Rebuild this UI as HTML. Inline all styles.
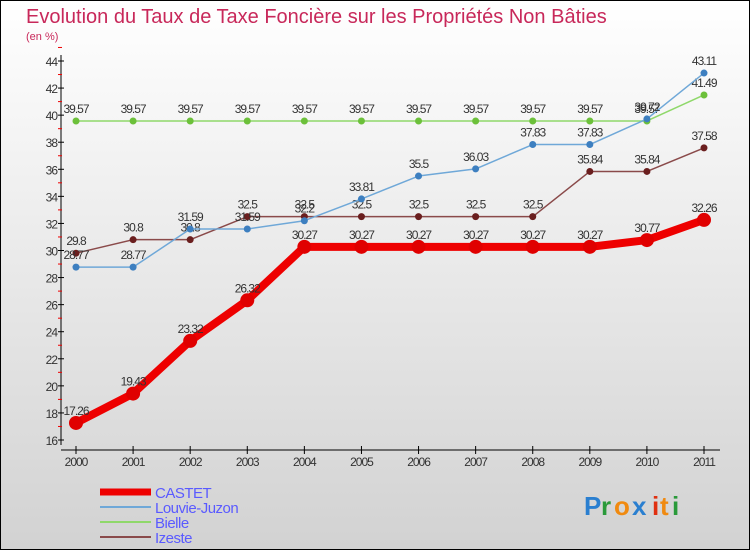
<!DOCTYPE html>
<html><head><meta charset="utf-8"><style>
body{margin:0}
#c{width:750px;height:550px;position:relative;font-family:"Liberation Sans",sans-serif;}
</style></head><body>
<div id="c">
<svg id="s" width="750" height="550" xmlns="http://www.w3.org/2000/svg">
<defs><linearGradient id="bg" x1="0" y1="0" x2="0" y2="1"><stop offset="0" stop-color="#ffffff"/><stop offset="1" stop-color="#d2d2d2"/></linearGradient></defs>
<rect x="0.5" y="0.5" width="749" height="549" fill="url(#bg)" stroke="#000"/>
<text x="26" y="23" font-size="20" fill="#c8285a">Evolution du Taux de Taxe Foncière sur les Propriétés Non Bâties</text>
<text x="26" y="40" font-size="11" fill="#c8285a">(en %)</text>
<g id="g"></g>
<g font-size="26" font-weight="bold">
<text x="584" y="515" fill="#2a7fd0">P</text><text x="601" y="515" fill="#2a9a3a">r</text><text x="614" y="515" fill="#f08a10">o</text><text x="632" y="515" fill="#2a7fd0">x</text><text x="652" y="515" fill="#e03010">i</text><text x="660" y="515" fill="#f08a10">t</text><text x="672" y="515" fill="#2a9a3a">i</text>
</g>
</svg></div>
<script>
const years=[2000,2001,2002,2003,2004,2005,2006,2007,2008,2009,2010,2011];
const castet=[17.26,19.43,23.32,26.32,30.27,30.27,30.27,30.27,30.27,30.27,30.77,32.26];
const louvie=[28.77,28.77,31.59,31.59,32.2,33.81,35.5,36.03,37.83,37.83,39.72,43.11];
const bielle=[39.57,39.57,39.57,39.57,39.57,39.57,39.57,39.57,39.57,39.57,39.57,41.49];
const izeste=[29.8,30.8,30.8,32.5,32.5,32.5,32.5,32.5,32.5,35.84,35.84,37.58];
const yTicks=[16,18,20,22,24,26,28,30,32,34,36,38,40,42,44];
const NS="http://www.w3.org/2000/svg";
const g=document.getElementById('g');
const X=i=>76+i*(704-76)/(years.length-1);
const Y=v=>440-(v-16)*(379/28);
function mk(t,a,p){const e=document.createElementNS(NS,t);for(const k in a)e.setAttribute(k,a[k]);(p||g).appendChild(e);return e;}
// axes
let ax=mk('line',{x1:61,y1:55,x2:61,y2:445,stroke:'#000'});


yTicks.forEach(v=>{mk('line',{x1:58,x2:64,y1:Y(v),y2:Y(v),stroke:'#000'});
 mk('line',{x1:58,x2:62,y1:Y(v+1),y2:Y(v+1),stroke:'#e00'});
 const t=mk('text',{x:57,y:Y(v)+5,'text-anchor':'end','font-size':12,fill:'#333','letter-spacing':'-1'});t.textContent=v;
 
 });
let xa=mk('line',{x1:61,y1:450,x2:720,y2:450,stroke:'#000'});


years.forEach((y,i)=>{mk('line',{x1:X(i),x2:X(i),y1:446,y2:454,stroke:'#000'});
 const t=mk('text',{x:X(i),y:466,'text-anchor':'middle','font-size':12,fill:'#333','letter-spacing':'-1'});t.textContent=y;
 
 });
function series(name,data,color,dot,w,r,fs){
 const grp=mk('g',{});
 
 
 mk('polyline',{points:data.map((v,i)=>X(i)+','+Y(v)).join(' '),fill:'none',stroke:color,'stroke-width':w,'stroke-linejoin':'round'},grp);
 data.forEach((v,i)=>{const c=mk('circle',{cx:X(i),cy:Y(v),r:r,fill:dot},grp);
  
  
  const t=mk('text',{x:X(i),y:Y(v)-8,'text-anchor':'middle','font-size':fs,fill:'#333','letter-spacing':'-1'},grp);t.textContent=v;
  
  });
}
series('bielle',bielle,'#8fd86a','#6cc03a',1.5,3.5,12);
series('izeste',izeste,'#8a4a4a','#6a1e1e',1.5,3.5,12);
series('louvie',louvie,'#6fa8d8','#3d7fc0',1.5,3.5,12);
series('castet',castet,'#ee0000','#e00000',8,7,12);
const leg=[['CASTET','#ee0000',7],['Louvie-Juzon','#6fa8d8',2],['Bielle','#8fd86a',2],['Izeste','#8a4a4a',2]];
leg.forEach((l,i)=>{const y=492+i*15;const e=mk('g',{});
 
 
 mk('line',{x1:100,x2:151,y1:y,y2:y,stroke:l[1],'stroke-width':l[2]},e);
 const t=mk('text',{x:155,y:y+6,'font-size':15,fill:'#5a5aff','letter-spacing':'-0.5'},e);t.textContent=l[0];});
</script>
</body></html>
